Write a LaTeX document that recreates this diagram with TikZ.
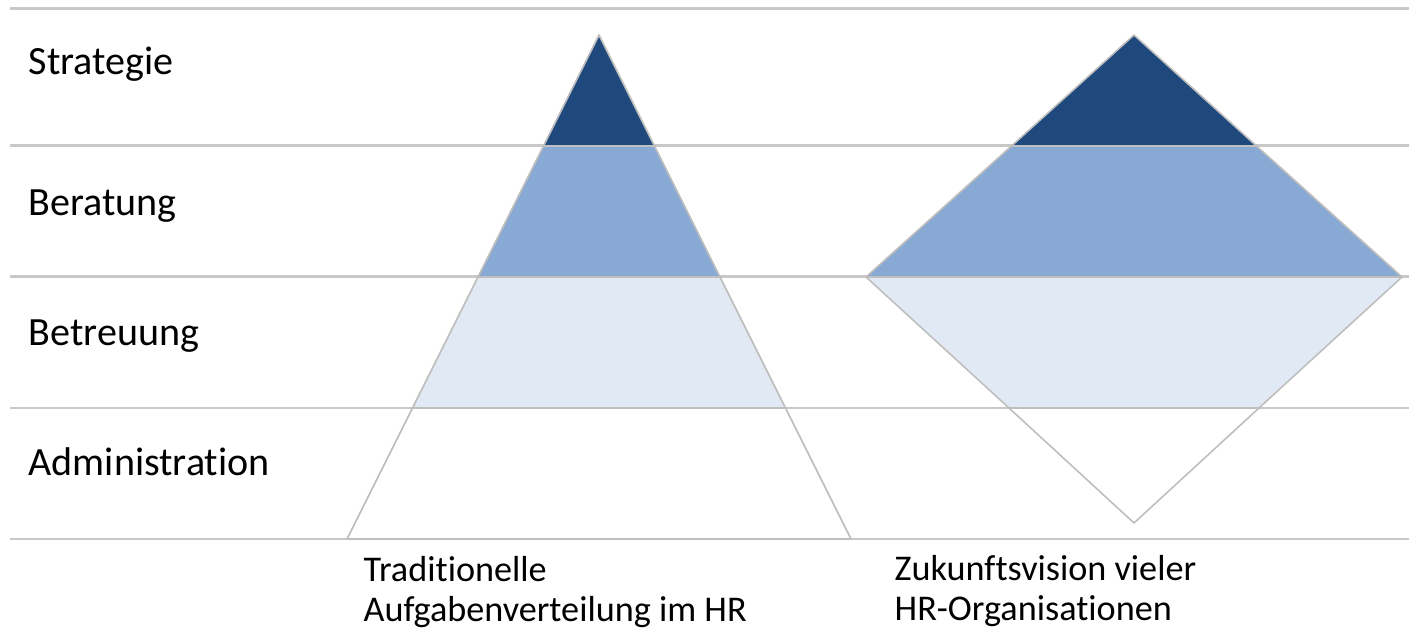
\documentclass[tikz,border=0pt]{standalone}
\usepackage{fontspec}
\setmainfont{Carlito}[Ligatures=NoCommon]

\definecolor{stratblue}{RGB}{31,73,125}
\definecolor{berblue}{RGB}{136,169,211}
\definecolor{betblue}{RGB}{225,233,244}
\definecolor{rulegray}{RGB}{200,200,200}
\definecolor{edgegray}{RGB}{190,190,190}

\begin{document}
\begin{tikzpicture}[x=0.1mm,y=-0.1mm]

\tikzstyle{levelline}=[draw=rulegray,line width=0.85pt]
\tikzstyle{layer}=[draw=edgegray,line width=0.45pt,line join=round]
\tikzstyle{levellabel}=[anchor=base west,inner sep=0mm,font=\fontsize{11.4}{13.7}\selectfont]
\tikzstyle{caption}=[anchor=base west,inner sep=0mm,align=left,font=\fontsize{10.3}{11.4}\selectfont]

\useasboundingbox (0,0) rectangle (1409,635);

% level borders
\foreach \y in {9,146,277,408,539}
  \draw[levelline] (10,\y) -- (1409,\y);

\begin{scope}[]

% traditional pyramid
\filldraw[layer,fill=white] (412.5,408)--(785.5,408)--(851,539)--(347,539)--cycle;
\filldraw[layer,fill=betblue] (478,277)--(720,277)--(785.5,408)--(412.5,408)--cycle;
\filldraw[layer,fill=berblue] (543.5,146)--(654.5,146)--(720,277)--(478,277)--cycle;
\filldraw[layer,fill=stratblue] (599,35)--(654.5,146)--(543.5,146)--cycle;

% future diamond
\filldraw[layer,fill=white] (1009,408)--(1259,408)--(1134,523)--cycle;
\filldraw[layer,fill=betblue] (866,277)--(1402,277)--(1259,408)--(1009,408)--cycle;
\filldraw[layer,fill=berblue] (1011.5,146)--(1256.5,146)--(1402,277)--(866,277)--cycle;
\filldraw[layer,fill=stratblue] (1134,35)--(1256.5,146)--(1011.5,146)--cycle;

\end{scope}

\node [levellabel] (l1) at (28,75){Strategie};
\node [levellabel] (l2) at (28,216){Beratung};
\node [levellabel] (l3) at (28,346){Betreuung};
\node [levellabel] (l4) at (28,476){Administration};

% captions: anchor is the baseline of the second line
\node [caption] (cap1) at (363,622){Traditionelle\\Aufgabenverteilung im HR};
\node [caption] (cap2) at (894,621){Zukunftsvision vieler\\HR-Organisationen};

\end{tikzpicture}
\end{document}
